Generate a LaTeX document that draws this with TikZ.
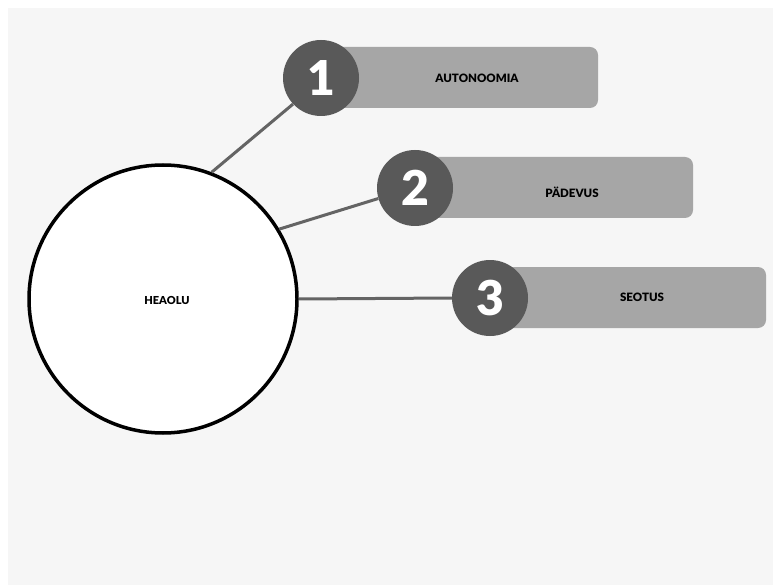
\documentclass[tikz,border=0pt]{standalone}
\usepackage{fontspec}
\setmainfont{Lato}
\newfontfamily\heavyfont{Lato Black}
\definecolor{bgc}{HTML}{F6F6F6}
\definecolor{boxc}{HTML}{A6A6A6}
\definecolor{badgec}{HTML}{595959}
\definecolor{connc}{HTML}{646464}
\begin{document}
\begin{tikzpicture}[x=1pt,y=-1pt,
  labelbox/.style={fill=boxc,rounded corners=8pt},
  badge/.style={circle,fill=badgec,minimum size=76pt,inner sep=0pt,text=white,font=\fontsize{48}{48}\selectfont\heavyfont},
  lbl/.style={font=\fontsize{11.5}{12}\selectfont\heavyfont,text=black},
  conn/.style={draw=connc,line width=3pt},
  hub/.style={circle,draw=black,line width=3.5pt,fill=white,minimum size=268pt,inner sep=0pt}]
\useasboundingbox (0,0) rectangle (773,585);
\fill[white] (0,0) rectangle (773,585);
\fill[bgc] (8,8) rectangle (773,585);
% label boxes
\fill[labelbox] (321,47) rectangle (598,108);
\fill[labelbox] (415,157) rectangle (693,218);
\fill[labelbox] (490,267) rectangle (766,328);
\node[lbl] (t1) at (477,78) {AUTONOOMIA};
\node[lbl] (t2) at (572,192) {PÄDEVUS};
\node[lbl] (t3) at (642,297) {SEOTUS};
% hub
\node[hub] (hub) at (163,299) {};
\node[lbl,font=\fontsize{11}{12}\selectfont\heavyfont] (ht) at (167,300) {HEAOLU};
% badges
\node[badge] (b1) at (321,78) {1};
\node[badge] (b2) at (415,188) {2};
\node[badge] (b3) at (490,298) {3};
% connectors
\draw[conn] (hub.69.7) -- (b1.223);
\draw[conn] (hub.31) -- (b2.196);
\draw[conn] (hub.0) -- (b3.180);
\end{tikzpicture}
\end{document}
